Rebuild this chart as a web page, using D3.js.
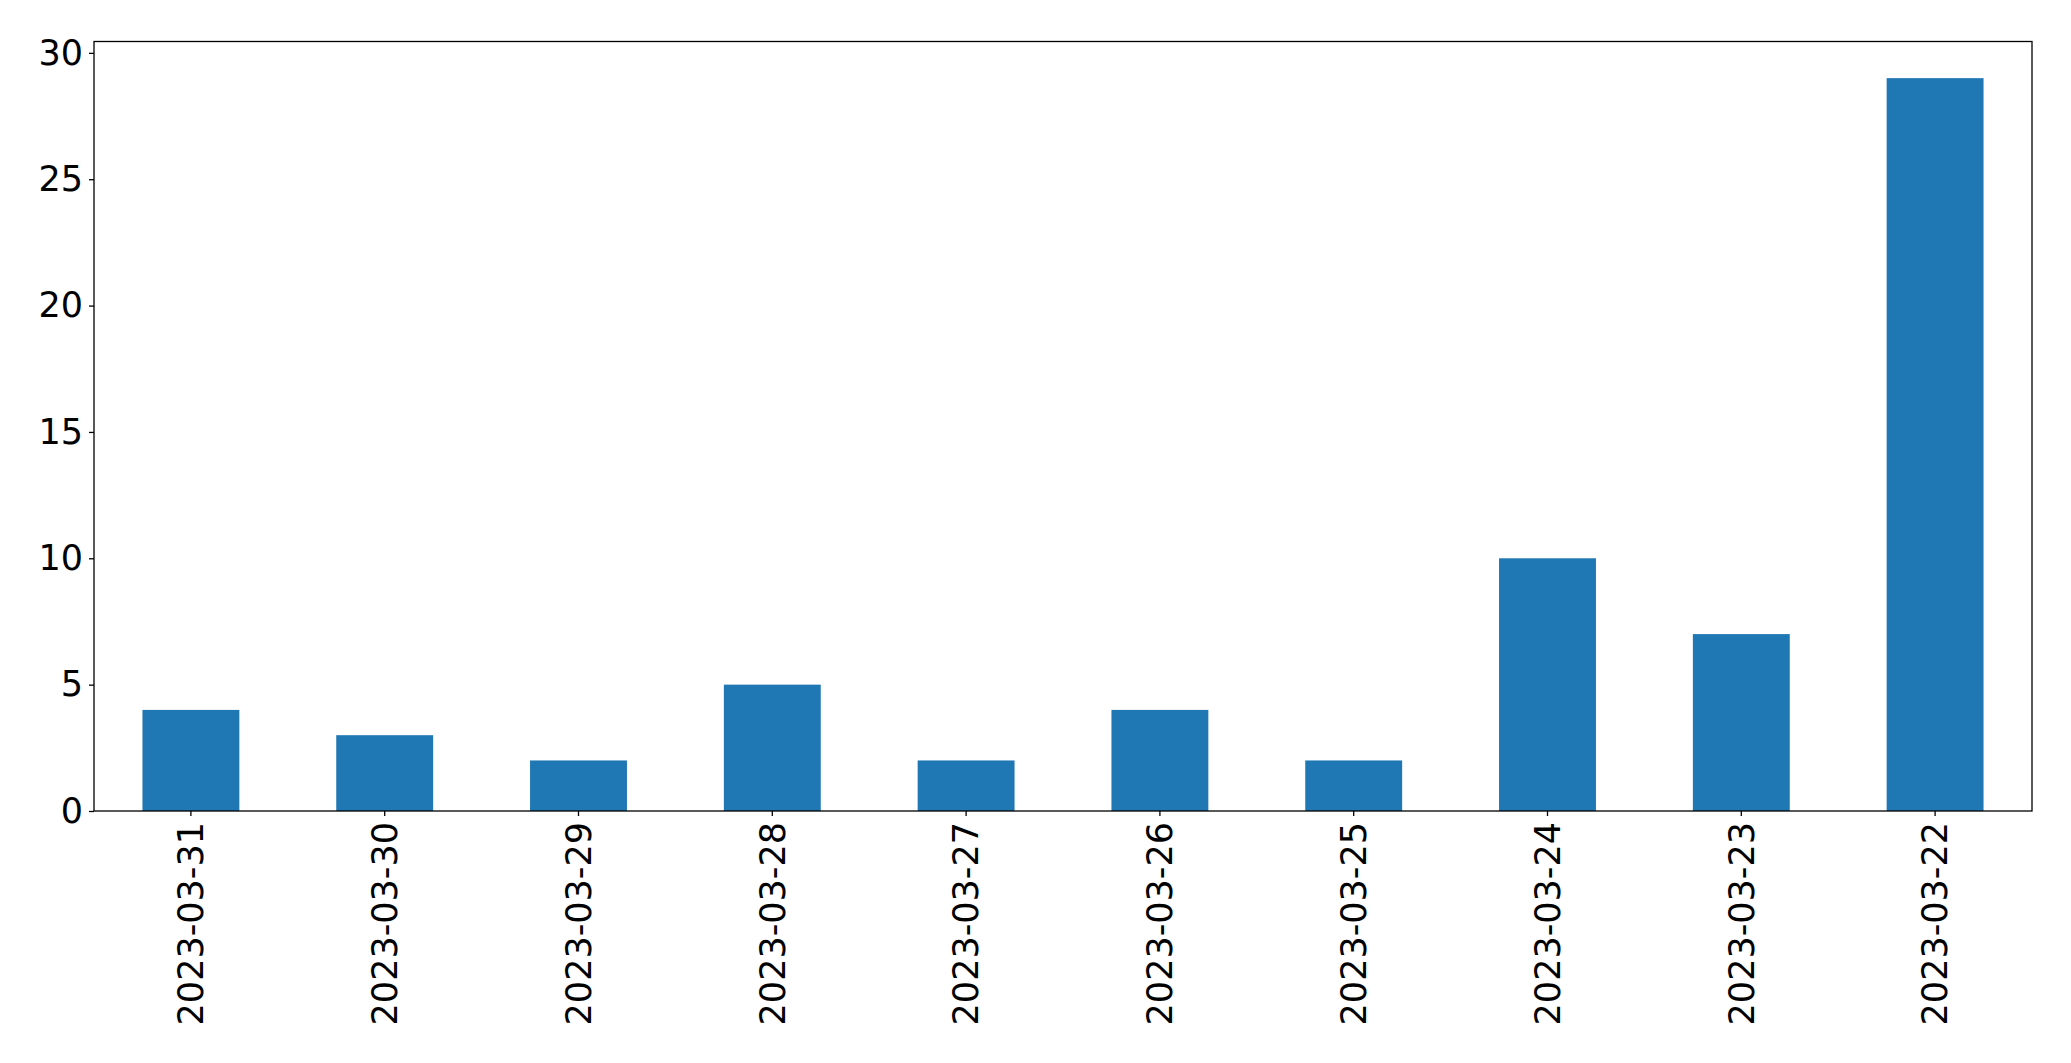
<!DOCTYPE html>
<html>
<head>
<meta charset="utf-8">
<script src="https://cdn.jsdelivr.net/npm/d3@7"></script>
<style>
  body { margin: 0; background: #fff; }
  .tick text { font-family: "DejaVu Sans", sans-serif; font-size: 35px; fill: #000; }
  .tick line { stroke: #000; stroke-width: 1.3; }
</style>
</head>
<body>
<div id="chart"></div>
<script>
// Data
var dates = ["2023-03-31", "2023-03-30", "2023-03-29", "2023-03-28", "2023-03-27",
             "2023-03-26", "2023-03-25", "2023-03-24", "2023-03-23", "2023-03-22"];
var counts = [4, 3, 2, 5, 2, 4, 2, 10, 7, 29];
var yTicks = [0, 5, 10, 15, 20, 25, 30];

var width = 2071;
var height = 1063;
var margin = { top: 41.5, right: 39, bottom: 252, left: 94 };

var svg = d3.select("#chart")
    .append("svg")
    .attr("width", width)
    .attr("height", height);

var xScale = d3.scaleBand()
    .domain(dates)
    .range([margin.left, width - margin.right])
    .paddingInner(0.5)
    .paddingOuter(0.25);

var yScale = d3.scaleLinear()
    .domain([0, d3.max(counts) * 1.05])
    .range([height - margin.bottom, margin.top]);

// bars
svg.selectAll("rect.bar")
    .data(counts)
    .enter()
    .append("rect")
    .attr("class", "bar")
    .attr("x", function(d, i) { return xScale(dates[i]); })
    .attr("y", function(d) { return yScale(d); })
    .attr("width", xScale.bandwidth())
    .attr("height", function(d) { return yScale(0) - yScale(d); })
    .attr("fill", "#1f77b4");

// axes
var xAxis = d3.axisBottom(xScale).tickSize(5).tickPadding(5);
var yAxis = d3.axisLeft(yScale).tickValues(yTicks).tickSize(5).tickPadding(6);

var gx = svg.append("g")
    .attr("transform", "translate(0," + (height - margin.bottom) + ")")
    .call(xAxis);
gx.select(".domain").remove();
gx.selectAll(".tick text")
    .attr("transform", "rotate(-90)")
    .attr("text-anchor", "end")
    .attr("x", -11)
    .attr("y", 0)
    .attr("dy", "0.35em");

var gy = svg.append("g")
    .attr("transform", "translate(" + margin.left + ",0)")
    .call(yAxis);
gy.select(".domain").remove();

// frame
svg.append("rect")
    .attr("x", margin.left)
    .attr("y", margin.top)
    .attr("width", width - margin.left - margin.right)
    .attr("height", height - margin.top - margin.bottom)
    .attr("fill", "none")
    .attr("stroke", "#000")
    .attr("stroke-width", 1.3);
</script>
</body>
</html>
